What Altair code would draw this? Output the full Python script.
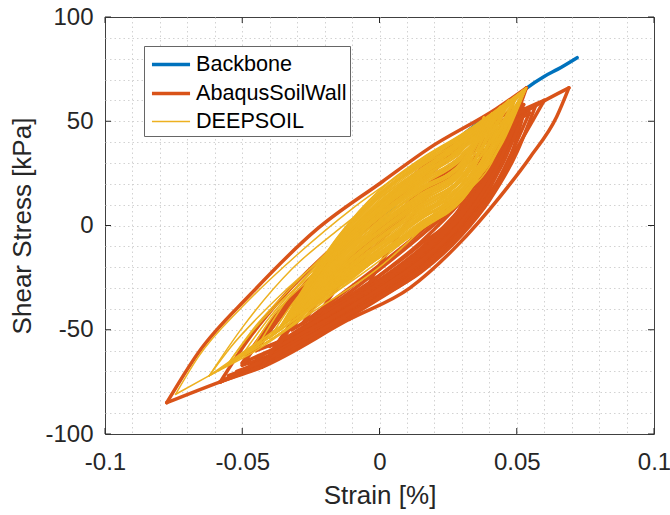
import altair as alt
import pandas as pd

SERIES = ["Backbone", "AbaqusSoilWall", "DEEPSOIL"]
COLORS = ["#0072BD", "#D95319", "#EDB120"]
LINE_WIDTHS = [3.5, 3.5, 1.5]

X_GRID = [-0.1, -0.09, -0.08, -0.07, -0.06, -0.05, -0.04, -0.03, -0.02, -0.01, 0.0,
          0.01, 0.02, 0.03, 0.04, 0.05, 0.06, 0.07, 0.08, 0.09, 0.1]
Y_GRID = [-100, -90, -80, -70, -60, -50, -40, -30, -20, -10, 0,
          10, 20, 30, 40, 50, 60, 70, 80, 90, 100]
X_MAJOR = [-0.1, -0.05, 0.0, 0.05, 0.1]
Y_MAJOR = [-100, -50, 0, 50, 100]

# Backbone curve
BACKBONE_STRAIN = [0.0, 0.005, 0.01, 0.02, 0.03, 0.04, 0.05, 0.0535, 0.06, 0.065, 0.072]
BACKBONE_STRESS = [0.0, 9.0, 17.0, 31.0, 43.0, 53.0, 62.0, 65.8, 71.5, 75.0, 80.5]

# AbaqusSoilWall: outer envelope branches (strain, stress)
ABAQUS_ENVELOPE = [
    [(-0.0775, -85), (-0.066, -61), (-0.047, -33), (-0.023, -2), (0.001, 21), (0.018, 37), (0.0426, 56), (0.0535, 66)],
    [(-0.0775, -85), (-0.058, -75), (-0.043, -68), (-0.011, -45), (0.011, -30), (0.028, -10), (0.044, 14), (0.055, 33), (0.0645, 52), (0.069, 66)],
    [(-0.011, -45), (0.0, -19), (0.015, 10), (0.035, 37), (0.055, 56), (0.069, 66)],
    [(-0.058, -75), (-0.045, -67), (-0.03, -56), (-0.015, -43), (0.0, -30), (0.015, -14), (0.03, 6), (0.04, 25), (0.047, 43), (0.0535, 66)],
]

# AbaqusSoilWall: unloading branches
ABAQUS_UNLOADING = [
    [(-0.058, -75), (-0.045, -68), (-0.03, -57), (-0.015, -44), (0.0, -31), (0.015, -16), (0.03, 4), (0.04, 24), (0.0525, 58)],
    [(-0.043, -68), (-0.03, -58.5), (-0.015, -47), (0.0, -35), (0.015, -22), (0.03, -3), (0.04, 14), (0.0546, 54)],
    [(-0.05, -66), (-0.045, -63), (-0.03, -54), (-0.015, -41), (0.0, -27), (0.015, -12), (0.03, 8), (0.04, 28), (0.05, 57)],
    [(-0.04, -62), (-0.03, -55.5), (-0.015, -44.5), (0.0, -32.5), (0.015, -19), (0.03, 0), (0.04, 19), (0.051, 54)],
    [(-0.036, -56), (-0.03, -52), (-0.015, -39), (0.0, -24), (0.015, -8), (0.03, 12), (0.04, 29), (0.047, 48)],
    [(-0.032, -50), (-0.03, -48.5), (-0.015, -36), (0.0, -21), (0.015, -5), (0.03, 13), (0.04, 30), (0.045, 46)],
    [(-0.05, -67), (-0.045, -65), (-0.03, -57.5), (-0.015, -46), (0.0, -33.5), (0.015, -20), (0.03, -1), (0.04, 15), (0.05, 37), (0.06, 60)],
    [(-0.028, -47), (-0.015, -34), (0.0, -19), (0.015, -3), (0.03, 15), (0.036, 26), (0.042, 44)],
    [(-0.045, -60), (-0.03, -52), (-0.015, -41), (0.0, -29), (0.015, -15), (0.03, 3), (0.04, 20), (0.0525, 55)],
    [(-0.022, -42), (-0.015, -37), (0.0, -24), (0.015, -9), (0.03, 10), (0.038, 36)],
    [(-0.047, -66), (-0.045, -65), (-0.03, -56), (-0.015, -45), (0.0, -33), (0.015, -20), (0.03, -2), (0.04, 17), (0.05, 52)],
    [(-0.038, -60), (-0.03, -53.5), (-0.015, -42.5), (0.0, -30), (0.015, -17.5), (0.03, 1.5), (0.04, 22), (0.046, 47)],
    [(-0.034, -54), (-0.03, -50.5), (-0.015, -38), (0.0, -26), (0.015, -11), (0.03, 9), (0.04, 27), (0.044, 45)],
    [(-0.03, -51), (-0.015, -40), (0.0, -28.5), (0.015, -14), (0.03, 5), (0.04, 23), (0.048, 50)],
    [(-0.025, -45), (-0.015, -38), (0.0, -26.5), (0.015, -12), (0.03, 7), (0.04, 38)],
    [(-0.055, -72), (-0.045, -67), (-0.03, -58), (-0.015, -46.5), (0.0, -34), (0.015, -21), (0.03, -3), (0.04, 14), (0.047, 30), (0.053, 56)],
    [(-0.058, -75), (-0.045, -66), (-0.03, -55), (-0.015, -43), (0.0, -31.5), (0.015, -18), (0.03, 1), (0.045, 30), (0.052, 52)],
    [(-0.052, -70), (-0.045, -66.5), (-0.03, -56.5), (-0.015, -45.5), (0.0, -34.5), (0.015, -22.5), (0.03, -4.5), (0.04, 12), (0.05, 35), (0.057, 58)],
    [(-0.045, -64), (-0.03, -53), (-0.015, -42.5), (0.0, -30.5), (0.015, -17), (0.03, 2), (0.04, 21), (0.05, 50)],
    [(-0.04, -58), (-0.03, -51), (-0.015, -39.5), (0.0, -27.5), (0.015, -13), (0.03, 6), (0.04, 25), (0.046, 44)],
]

# AbaqusSoilWall: loading branches
ABAQUS_LOADING = [
    [(-0.058, -75), (-0.048, -55), (-0.035, -34), (-0.015, -8), (0.005, 16), (0.025, 37), (0.04, 49), (0.0525, 58)],
    [(-0.043, -68), (-0.033, -49), (-0.02, -29), (0.0, -3), (0.02, 21), (0.04, 42), (0.0546, 54)],
    [(-0.05, -66), (-0.04, -47), (-0.025, -25), (-0.005, 0), (0.015, 23), (0.035, 44), (0.05, 57)],
    [(-0.04, -62), (-0.03, -43), (-0.015, -21), (0.005, 4), (0.025, 28), (0.04, 43), (0.051, 54)],
    [(-0.036, -56), (-0.027, -39), (-0.012, -18), (0.008, 6), (0.028, 29), (0.047, 48)],
    [(-0.032, -50), (-0.023, -33), (-0.008, -12), (0.012, 12), (0.03, 32), (0.045, 46)],
    [(-0.05, -67), (-0.04, -49), (-0.025, -27), (-0.005, -2), (0.015, 21), (0.035, 42), (0.05, 54), (0.06, 60)],
    [(-0.028, -47), (-0.02, -32), (-0.005, -12), (0.015, 13), (0.03, 31), (0.042, 44)],
    [(-0.045, -60), (-0.035, -42), (-0.02, -20), (0.0, 5), (0.02, 28), (0.04, 47), (0.0525, 55)],
    [(-0.022, -42), (-0.015, -29), (0.0, -8), (0.015, 12), (0.03, 28), (0.038, 36)],
]

# DEEPSOIL: large outer loops and the thin loops on the left side
DEEPSOIL_OUTER = [
    [(-0.0743, -81), (-0.066, -63), (-0.05, -39), (-0.03, -14), (-0.01, 8), (0.015, 31), (0.035, 48), (0.0535, 66)],
    [(-0.0743, -81), (-0.062, -72), (-0.045, -60), (-0.025, -42), (0.0, -20), (0.02, 4), (0.04, 30), (0.0535, 66)],
    [(-0.062, -72), (-0.05, -49), (-0.032, -21), (-0.015, -2), (0.005, 18), (0.025, 36), (0.047, 60)],
    [(-0.062, -72), (-0.045, -58), (-0.025, -40), (0.0, -17), (0.02, 5), (0.038, 30), (0.047, 60)],
    [(-0.05, -62), (-0.04, -44), (-0.025, -22), (-0.01, -1), (0.01, 20), (0.03, 42), (0.0535, 66)],
    [(-0.05, -62), (-0.036, -50), (-0.015, -29), (0.005, -11), (0.025, 8), (0.042, 34), (0.0535, 66)],
    [(-0.047, -60), (-0.038, -42), (-0.025, -25), (-0.01, -5), (0.01, 16), (0.03, 38), (0.05, 62)],
    [(-0.047, -60), (-0.032, -46), (-0.01, -25), (0.01, -5), (0.03, 14), (0.042, 33), (0.05, 62)],
    [(-0.044, -57), (-0.035, -38), (-0.02, -16), (0.0, 8), (0.02, 30), (0.035, 46), (0.0535, 66)],
    [(-0.044, -57), (-0.03, -43), (-0.01, -24), (0.01, -4), (0.03, 15), (0.043, 36), (0.0535, 66)],
    [(-0.04, -54), (-0.032, -38), (-0.02, -20), (-0.005, 0), (0.015, 24), (0.035, 46), (0.0535, 66)],
    [(-0.04, -54), (-0.025, -39), (-0.005, -19), (0.015, 0), (0.032, 17), (0.045, 40), (0.0535, 66)],
    [(-0.055, -66), (-0.045, -48), (-0.03, -27), (-0.012, -4), (0.01, 19), (0.03, 38), (0.044, 57)],
    [(-0.055, -66), (-0.04, -55), (-0.02, -35), (0.0, -15), (0.02, 5), (0.035, 24), (0.044, 57)],
    [(-0.062, -72), (-0.05, -63), (-0.04, -55), (-0.03, -46), (-0.015, -31), (0.0, -15), (0.02, 6), (0.035, 26), (0.047, 60)],
    [(-0.062, -72), (-0.05, -61), (-0.04, -52), (-0.03, -43), (-0.015, -28), (0.0, -12), (0.02, 9), (0.035, 30), (0.05, 62)],
    [(-0.058, -69), (-0.045, -58), (-0.035, -49), (-0.025, -39), (-0.01, -22), (0.01, -1), (0.03, 20), (0.044, 57)],
    [(-0.055, -66), (-0.045, -57), (-0.035, -47), (-0.02, -31), (0.0, -11), (0.02, 10), (0.035, 30), (0.0535, 66)],
    [(-0.062, -72), (-0.054, -58), (-0.045, -45), (-0.035, -32), (-0.02, -15), (0.0, 7), (0.025, 34), (0.05, 62)],
    [(-0.055, -66), (-0.047, -52), (-0.038, -39), (-0.025, -24), (-0.01, -6), (0.01, 15), (0.03, 38), (0.047, 60)],
]

# DEEPSOIL: dense central loops: (left tip, right tip, loading stresses, unloading stresses) at CORE_STRAIN
CORE_STRAIN = [-0.015, 0.0, 0.015, 0.03]
DEEPSOIL_CORE = [
    ((-0.036, -48), (0.0535, 66), [-5.0, 17.0, 32.0, 44.0], [-29.0, -15.5, -2.0, 12.0]),
    ((-0.034, -46), (0.05, 62), [-6.2, 14.6, 28.6, 40.0], [-27.8, -13.1, 1.4, 16.0]),
    ((-0.033, -45), (0.0535, 66), [-8.0, 13.8, 29.5, 42.4], [-26.6, -13.1, -0.3, 12.8]),
    ((-0.032, -44), (0.047, 60), [-8.6, 11.3, 25.2, 36.8], [-25.4, -9.8, 4.8, 19.2]),
    ((-0.035, -47), (0.05, 62), [-9.8, 11.3, 26.9, 40.0], [-24.2, -9.8, 3.1, 16.0]),
    ((-0.03, -42), (0.044, 57), [-11.0, 8.1, 21.8, 33.6], [-23.0, -6.6, 8.2, 22.4]),
    ((-0.031, -43), (0.0535, 66), [-12.2, 8.1, 23.5, 36.8], [-21.8, -6.6, 6.5, 19.2]),
    ((-0.028, -41), (0.041, 54), [-13.4, 4.8, 18.4, 30.4], [-20.6, -3.3, 11.6, 25.6]),
    ((-0.034, -46), (0.047, 60), [-14.6, 4.8, 20.1, 33.6], [-19.4, -3.3, 9.9, 22.4]),
    ((-0.026, -39), (0.038, 52), [-15.8, 2.4, 16.7, 29.6], [-18.2, -0.9, 13.3, 26.4]),
    ((-0.035, -47), (0.0535, 66), [-5.6, 15.4, 29.5, 40.8], [-28.4, -13.9, 0.6, 15.2]),
    ((-0.033, -45), (0.05, 62), [-7.4, 14.6, 30.3, 43.2], [-27.2, -13.9, -1.2, 12.0]),
    ((-0.031, -43), (0.044, 57), [-9.2, 10.5, 24.4, 36.0], [-24.8, -9.0, 5.7, 20.0]),
    ((-0.036, -48), (0.05, 62), [-10.4, 10.5, 26.1, 39.2], [-23.6, -9.0, 4.0, 16.8]),
    ((-0.029, -42), (0.041, 54), [-11.6, 7.3, 21.0, 32.8], [-22.4, -5.8, 9.1, 23.2]),
    ((-0.032, -44), (0.0535, 66), [-12.8, 7.3, 22.7, 36.0], [-21.2, -5.8, 7.4, 20.0]),
    ((-0.027, -40), (0.038, 52), [-14.0, 4.0, 17.6, 29.6], [-20.0, -2.5, 12.5, 26.4]),
    ((-0.033, -45), (0.047, 60), [-15.2, 4.0, 19.3, 32.8], [-18.8, -2.5, 10.8, 23.2]),
    ((-0.025, -38), (0.038, 51), [-16.4, 0.8, 15.0, 28.0], [-17.6, -0.1, 14.2, 27.2]),
    ((-0.03, -42), (0.044, 57), [-16.6, 1.6, 16.7, 30.4], [-17.4, -0.1, 13.3, 25.6]),
    ((-0.0355, -47.5), (0.0535, 66), [-5.3, 16.6, 31.6, 43.6], [-28.7, -15.1, -1.6, 12.4]),
    ((-0.034, -46), (0.052, 64), [-5.9, 15.8, 30.7, 42.8], [-28.1, -14.3, -0.7, 13.2]),
    ((-0.033, -45), (0.05, 62), [-6.5, 15.0, 29.9, 42.0], [-27.5, -13.5, 0.1, 14.0]),
    ((-0.035, -47), (0.0535, 66), [-7.1, 14.2, 29.0, 41.2], [-26.9, -12.7, 1.0, 14.8]),
    ((-0.031, -43), (0.047, 60), [-7.7, 13.3, 28.2, 40.4], [-26.3, -11.8, 1.8, 15.6]),
    ((-0.034, -46), (0.0535, 66), [-8.3, 12.5, 27.3, 39.6], [-25.7, -11.0, 2.7, 16.4]),
    ((-0.03, -42), (0.044, 57), [-8.9, 11.7, 26.5, 38.8], [-25.1, -10.2, 3.5, 17.2]),
    ((-0.033, -45), (0.05, 62), [-9.5, 10.9, 25.6, 38.0], [-24.5, -9.4, 4.4, 18.0]),
    ((-0.029, -42), (0.047, 60), [-10.1, 10.1, 24.8, 37.2], [-23.9, -8.6, 5.2, 18.8]),
    ((-0.035, -47), (0.0535, 66), [-10.7, 9.3, 23.9, 36.4], [-23.3, -7.8, 6.1, 19.6]),
    ((-0.028, -41), (0.041, 54), [-11.3, 8.5, 23.1, 35.6], [-22.7, -7.0, 6.9, 20.4]),
    ((-0.032, -44), (0.05, 62), [-11.9, 7.7, 22.2, 34.8], [-22.1, -6.2, 7.8, 21.2]),
    ((-0.027, -40), (0.044, 57), [-12.5, 6.8, 21.4, 34.0], [-21.5, -5.3, 8.6, 22.0]),
    ((-0.033, -45), (0.0535, 66), [-13.1, 6.0, 20.5, 33.2], [-20.9, -4.5, 9.5, 22.8]),
    ((-0.026, -39), (0.041, 54), [-13.7, 5.2, 19.7, 32.4], [-20.3, -3.7, 10.3, 23.6]),
    ((-0.031, -43), (0.047, 60), [-14.3, 4.4, 18.8, 31.6], [-19.7, -2.9, 11.2, 24.4]),
    ((-0.025, -38), (0.038, 52), [-14.9, 3.6, 18.0, 30.8], [-19.1, -2.1, 12.0, 25.2]),
    ((-0.03, -42), (0.044, 57), [-15.5, 2.8, 17.1, 30.0], [-18.5, -1.3, 12.9, 26.0]),
    ((-0.024, -37), (0.038, 51), [-16.1, 2.0, 16.3, 29.2], [-17.9, -0.5, 13.7, 26.8]),
    ((-0.028, -41), (0.041, 54), [-16.7, 1.2, 15.4, 28.4], [-17.3, 0.3, 14.6, 27.6]),
]

# ---------------------------------------------------------------- tables
def branch_rows(series, prefix, branches):
    rows = []
    for i, pts in enumerate(branches):
        for sx, sy in pts:
            rows.append({"series": series, "branch": f"{prefix}{i}", "strain": sx, "stress": sy})
    return rows

bb_rows = [{"series": "Backbone", "branch": "bb", "strain": sx, "stress": sy}
           for sx, sy in zip(BACKBONE_STRAIN, BACKBONE_STRESS)]

abq_rows = (branch_rows("AbaqusSoilWall", "env", ABAQUS_ENVELOPE)
            + branch_rows("AbaqusSoilWall", "unl", ABAQUS_UNLOADING)
            + branch_rows("AbaqusSoilWall", "lod", ABAQUS_LOADING))

core_branches = []
for left, right, up, lo in DEEPSOIL_CORE:
    core_branches.append([left] + list(zip(CORE_STRAIN, up)) + [right])
    core_branches.append([left] + list(zip(CORE_STRAIN, lo)) + [right])
ds_rows = (branch_rows("DEEPSOIL", "out", DEEPSOIL_OUTER)
           + branch_rows("DEEPSOIL", "core", core_branches))

FONT = "Liberation Sans"
TXT = "#262626"
PLOT_W, PLOT_H = 549, 417

x_scale = alt.Scale(domain=[-0.1, 0.1], nice=False, zero=False)
y_scale = alt.Scale(domain=[-100, 100], nice=False, zero=False)

x_axis = alt.Axis(
    values=X_GRID, title="Strain [%]", grid=True, gridDash=[1.5, 3], gridColor="#d2d2d2",
    gridOpacity={"condition": {"test": "abs(datum.value) > 0.0999", "value": 0}, "value": 1},
    ticks=False, domain=False,
    labelExpr="abs(datum.value*20 - round(datum.value*20)) < 0.001 ? '' + datum.value : ''",
    labelFont=FONT, labelFontSize=24, labelColor=TXT, labelPadding=16,
    labelOverlap=False, labelFlush=False,
    titleFont=FONT, titleFontSize=26, titleFontWeight="normal", titleColor=TXT,
    titleX=PLOT_W / 2, titleY=61, titleBaseline="middle", titleAlign="center",
)
y_axis = alt.Axis(
    values=Y_GRID, title="Shear Stress [kPa]", grid=True, gridDash=[1.5, 3], gridColor="#d2d2d2",
    gridOpacity={"condition": {"test": "abs(datum.value) > 99.9", "value": 0}, "value": 1},
    ticks=False, domain=False,
    labelExpr="datum.value % 50 == 0 ? '' + datum.value : ''",
    labelFont=FONT, labelFontSize=24, labelColor=TXT, labelPadding=12,
    labelOverlap=False, labelFlush=False,
    titleFont=FONT, titleFontSize=26, titleFontWeight="normal", titleColor=TXT,
    titleX=-83, titleY=PLOT_H / 2, titleAngle=270, titleBaseline="middle", titleAlign="center",
)

legend = alt.Legend(
    title=None, orient="none", legendX=39, legendY=29,
    symbolType="M-0.78,0H2.04", symbolSize=729,
    labelFont=FONT, labelFontSize=21.6, labelColor="#000000", labelOffset=18, labelLimit=400,
    fillColor="white", strokeColor="#666666", padding=3, rowPadding=2,
)

color = alt.Color("series:N", scale=alt.Scale(domain=SERIES, range=COLORS), legend=legend)
swidth = alt.StrokeWidth("series:N", scale=alt.Scale(type="ordinal", domain=SERIES, range=LINE_WIDTHS),
                         legend=legend)


def line_layer(rows):
    return alt.Chart(pd.DataFrame(rows)).mark_line(
        interpolate="monotone", strokeCap="round", strokeJoin="round"
    ).encode(
        x=alt.X("strain:Q", scale=x_scale, axis=x_axis),
        y=alt.Y("stress:Q", scale=y_scale, axis=y_axis),
        color=color,
        strokeWidth=swidth,
        detail="branch:N",
    )


xt = pd.DataFrame({"strain": X_MAJOR})
yt = pd.DataFrame({"stress": Y_MAJOR})
tick_bottom = alt.Chart(xt).mark_rule(color=TXT, strokeWidth=1).encode(
    x=alt.X("strain:Q", scale=x_scale, axis=x_axis), y=alt.value(PLOT_H), y2=alt.value(PLOT_H - 6))
tick_top = alt.Chart(xt).mark_rule(color=TXT, strokeWidth=1).encode(
    x=alt.X("strain:Q", scale=x_scale, axis=x_axis), y=alt.value(0), y2=alt.value(6))
tick_left = alt.Chart(yt).mark_rule(color=TXT, strokeWidth=1).encode(
    y=alt.Y("stress:Q", scale=y_scale, axis=y_axis), x=alt.value(0), x2=alt.value(6))
tick_right = alt.Chart(yt).mark_rule(color=TXT, strokeWidth=1).encode(
    y=alt.Y("stress:Q", scale=y_scale, axis=y_axis), x=alt.value(PLOT_W), x2=alt.value(PLOT_W - 6))

chart = alt.layer(
    line_layer(bb_rows), line_layer(abq_rows), line_layer(ds_rows),
    tick_bottom, tick_top, tick_left, tick_right,
).properties(
    width=PLOT_W, height=PLOT_H,
    autosize=alt.AutoSizeParams(type="none"),
    padding={"left": 105, "top": 17, "right": 16, "bottom": 81},
    background="white",
).configure_view(stroke="#404040", strokeWidth=1)

chart.save("out.html", embed_options={"renderer": "svg", "actions": False})
